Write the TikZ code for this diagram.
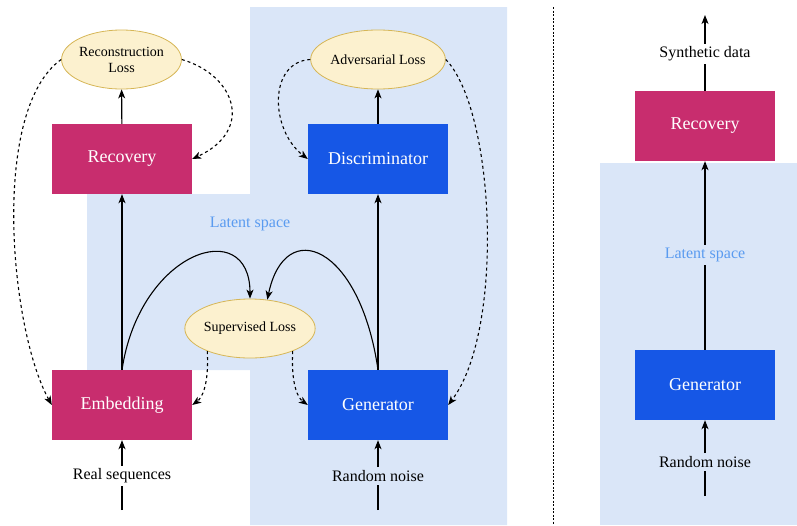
\documentclass[tikz,border=0pt]{standalone}
\usepackage{fontspec}
\setmainfont{Liberation Serif}
\usetikzlibrary{positioning}
\usetikzlibrary{shapes.geometric}
\usetikzlibrary{arrows.meta}

\definecolor{netpink}{RGB}{200,45,110}
\definecolor{netblue}{RGB}{22,87,230}
\definecolor{latentbg}{RGB}{218,230,248}
\definecolor{latenttext}{RGB}{90,155,240}
\definecolor{lossfill}{RGB}{252,241,207}
\definecolor{lossdraw}{RGB}{214,182,86}

\begin{document}
\begin{tikzpicture}
	[x=1pt, y=-1pt,
	net/.style={minimum width=140pt, minimum height=70pt, inner sep=0pt, text=white, font=\fontsize{18}{20}\selectfont},
	pinknet/.style={net, fill=netpink},
	bluenet/.style={net, fill=netblue},
	loss/.style={ellipse, draw=lossdraw, fill=lossfill, line width=0.8pt, minimum width=117pt, minimum height=59pt, inner sep=0pt, align=center, font=\fontsize{14}{16}\selectfont},
	datatext/.style={inner sep=3pt, font=\fontsize{16}{18}\selectfont},
	latentlabel/.style={inner sep=3pt, text=latenttext, font=\fontsize{16}{18}\selectfont},
	flow/.style={line width=1.1pt, -{Stealth[length=9pt,width=7pt,inset=2.5pt]}},
	lossflow/.style={flow, dash pattern=on 3pt off 3pt}]

	\useasboundingbox (0,0) rectangle (797,525);

	% latent space regions
	\fill[latentbg] (250,7) -- (507,7) -- (507,525) -- (250,525) -- (250,370)
		-- (87,370) -- (87,194) -- (250,194) -- cycle;
	\fill[latentbg] (600,163) rectangle (797,525);
	\draw[line width=0.9pt, dash pattern=on 2pt off 1.5pt] (553,7) -- (553,525);

	% training
	\node[pinknet] (rec) at (122,159) {Recovery};
	\node[bluenet] (disc) at (378,159) {Discriminator};
	\node[pinknet] (emb) at (122,405) {Embedding};
	\node[bluenet] (gen) at (378,405) {Generator};
	\node[loss] (recloss) at (121.5,59.5) {Reconstruction\\Loss};
	\node[loss] (advloss) at (378,59.5) {Adversarial Loss};
	\node[loss] (suploss) at (250,328.5) {Supervised Loss};
	\node[latentlabel] (lat) at (250,224) {Latent space};
	\node[datatext] (real) at (122,476) {Real sequences};
	\node[datatext] (noise) at (378,476) {Random noise};
	\coordinate (realin) at (122,510);
	\coordinate (noisein) at (378,510);

	\draw[line width=1.1pt] (realin) -- (real);
	\draw[flow] (real) -- (emb);
	\draw[line width=1.1pt] (noisein) -- (noise);
	\draw[flow] (noise) -- (gen);
	\draw[flow] (emb) -- (rec);
	\draw[flow] (rec) -- (recloss);
	\draw[flow] (gen) -- (disc);
	\draw[flow] (disc) -- (advloss);
	\draw[flow] (emb.north) .. controls (140,250) and (250,215) .. (suploss.north);
	\draw[flow] (gen.north) .. controls (360,245) and (285,215) .. (suploss.59);

	\draw[lossflow] (recloss.east) .. controls (235,75) and (255,130) .. (rec.east);
	\draw[lossflow] (recloss.west) .. controls (-10,110) and (10,330) .. (emb.west);
	\draw[lossflow] (advloss.west) .. controls (268,62) and (270,130) .. (disc.west);
	\draw[lossflow] (advloss.east) .. controls (495,110) and (505,330) .. (gen.east);
	\draw[lossflow] (suploss.-152) .. controls (209,385) and (202,398) .. (emb.east);
	\draw[lossflow] (suploss.-28) .. controls (291,385) and (298,398) .. (gen.west);

	% sampling
	\node[pinknet] (rec2) at (705,126) {Recovery};
	\node[bluenet] (gen2) at (705,385) {Generator};
	\node[latentlabel] (lat2) at (705,255) {Latent space};
	\node[datatext] (noise2) at (705,462) {Random noise};
	\node[datatext] (synth) at (705,54) {Synthetic data};
	\coordinate (noise2in) at (705,496);
	\coordinate (synthout) at (705,15);

	\draw[line width=1.1pt] (noise2in) -- (noise2);
	\draw[flow] (noise2) -- (gen2);
	\draw[line width=1.1pt] (gen2) -- (lat2);
	\draw[flow] (lat2) -- (rec2);
	\draw[line width=1.1pt] (rec2) -- (synth);
	\draw[flow] (synth) -- (synthout);

\end{tikzpicture}
\end{document}
